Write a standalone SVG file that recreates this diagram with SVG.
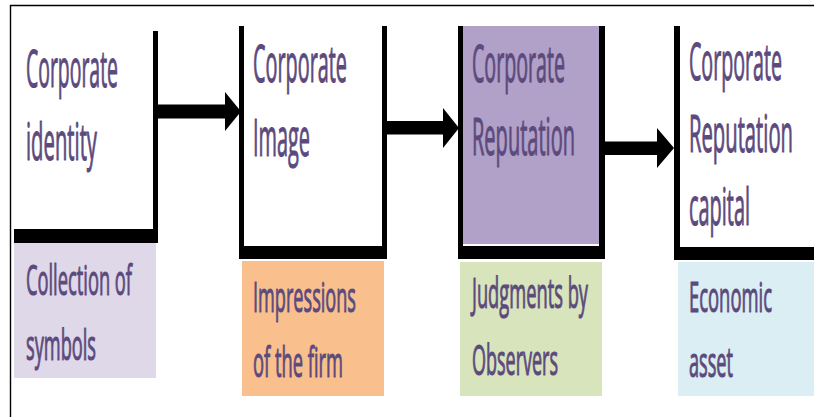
<svg xmlns="http://www.w3.org/2000/svg" width="814" height="417" viewBox="0 0 814 417">
<style>
.frame{fill:none;stroke:#000;stroke-width:1.4}
.bar{fill:#000}
.t{font-family:"Open Sans","Noto Sans",sans-serif;fill:#5C4A7D;stroke:#5C4A7D;stroke-width:1.1;stroke-linejoin:round}
.big{font-size:51px}
.small{font-size:42px}
.arrow{fill:#000}
</style>
<rect width="814" height="417" fill="#fff"/>
<path class="frame" d="M10.5,417 V5.5 H814"/>

<g id="node-identity">
  <rect class="bar" x="153" y="31" width="5" height="212"/>
  <rect class="bar" x="14" y="229" width="144" height="14"/>
  <text class="t big" transform="scale(0.4,1)" x="65" y="87" textLength="230" lengthAdjust="spacingAndGlyphs">Corporate</text>
  <text class="t big" transform="scale(0.4,1)" x="65" y="160" textLength="177.5" lengthAdjust="spacingAndGlyphs">identity</text>
</g>

<g id="node-collection">
  <rect x="14" y="243" width="142" height="135" fill="#DFD8E8"/>
  <text class="t small" transform="scale(0.4,1)" x="65" y="295" textLength="265" lengthAdjust="spacingAndGlyphs">Collection of</text>
  <text class="t small" transform="scale(0.4,1)" x="65" y="360" textLength="175" lengthAdjust="spacingAndGlyphs">symbols</text>
</g>

<g id="node-image">
  <rect class="bar" x="239" y="26" width="5" height="233"/>
  <rect class="bar" x="382" y="26" width="5" height="233"/>
  <rect class="bar" x="239" y="246" width="148" height="13"/>
  <text class="t big" transform="scale(0.4,1)" x="632.5" y="82" textLength="235" lengthAdjust="spacingAndGlyphs">Corporate</text>
  <text class="t big" transform="scale(0.4,1)" x="632.5" y="156" textLength="142.5" lengthAdjust="spacingAndGlyphs">Image</text>
</g>

<g id="node-impressions">
  <rect x="242" y="261" width="142" height="135" fill="#F9C08E"/>
  <text class="t small" transform="scale(0.4,1)" x="632.5" y="312" textLength="257.5" lengthAdjust="spacingAndGlyphs">Impressions</text>
  <text class="t small" transform="scale(0.4,1)" x="632.5" y="377" textLength="225" lengthAdjust="spacingAndGlyphs">of the firm</text>
</g>

<g id="node-reputation">
  <rect x="463" y="26" width="136" height="218" fill="#B1A0C7"/>
  <rect class="bar" x="458" y="26" width="5" height="233"/>
  <rect class="bar" x="599" y="26" width="6" height="233"/>
  <rect class="bar" x="458" y="246" width="147" height="13"/>
  <text class="t big" transform="scale(0.4,1)" x="1180" y="82" textLength="232.5" lengthAdjust="spacingAndGlyphs">Corporate</text>
  <text class="t big" transform="scale(0.4,1)" x="1180" y="155" textLength="257.5" lengthAdjust="spacingAndGlyphs">Reputation</text>
</g>

<g id="node-judgments">
  <rect x="460" y="262" width="142" height="134" fill="#D7E4BC"/>
  <text class="t small" transform="scale(0.4,1)" x="1180" y="308" textLength="290" lengthAdjust="spacingAndGlyphs">Judgments by</text>
  <text class="t small" transform="scale(0.4,1)" x="1180" y="375" textLength="215" lengthAdjust="spacingAndGlyphs">Observers</text>
</g>

<g id="node-capital">
  <rect class="bar" x="674" y="26" width="6" height="234"/>
  <rect class="bar" x="674" y="247" width="140" height="13"/>
  <text class="t big" transform="scale(0.4,1)" x="1722.5" y="80" textLength="232.5" lengthAdjust="spacingAndGlyphs">Corporate</text>
  <text class="t big" transform="scale(0.4,1)" x="1722.5" y="152" textLength="260" lengthAdjust="spacingAndGlyphs">Reputation</text>
  <text class="t big" transform="scale(0.4,1)" x="1722.5" y="225" textLength="152.5" lengthAdjust="spacingAndGlyphs">capital</text>
</g>

<g id="node-asset">
  <rect x="678" y="262" width="136" height="134" fill="#DAEEF3"/>
  <text class="t small" transform="scale(0.4,1)" x="1722.5" y="312" textLength="207.5" lengthAdjust="spacingAndGlyphs">Economic</text>
  <text class="t small" transform="scale(0.4,1)" x="1722.5" y="377" textLength="110" lengthAdjust="spacingAndGlyphs">asset</text>
</g>

<g id="connectors">
  <polygon class="arrow" points="157,104.5 225,104.5 225,92 241,111.5 225,131 225,118.5 157,118.5"/>
  <polygon class="arrow" points="387,121 443,121 443,108 459,128 443,148 443,134.5 387,134.5"/>
  <polygon class="arrow" points="604,141.5 657,141.5 657,128 674,148 657,168 657,155 604,155"/>
</g>
</svg>
